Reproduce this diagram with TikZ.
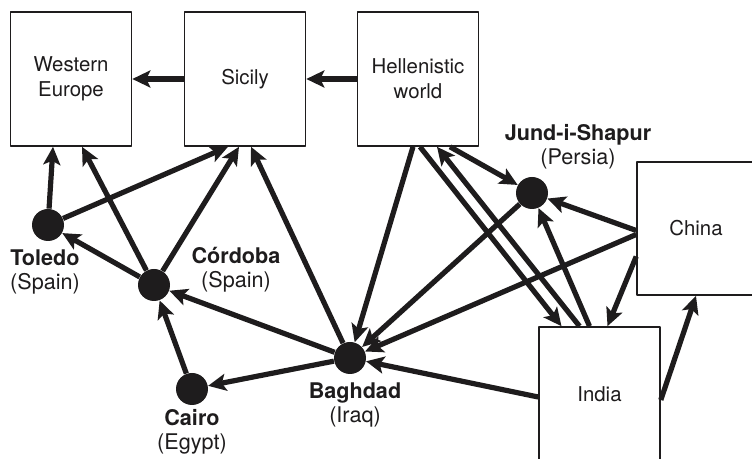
\documentclass[tikz,border=0pt]{standalone}
\usepackage{fontspec}
\setmainfont{TeX Gyre Heros}
\usetikzlibrary{arrows.meta,positioning}
\definecolor{ink}{HTML}{1E1C1D}

\begin{document}
\begin{tikzpicture}[x=.5pt,y=-.5pt,font=\fontsize{10.2}{12.5}\selectfont,text=ink,
    >={Stealth[length=9pt,width=8.5pt,inset=2pt]},line join=round,
    place/.style={draw=ink,line width=.8pt,fill=white,align=center,
      minimum width=60.5pt,minimum height=67pt,inner sep=0pt},
    town/.style={circle,fill=ink,minimum size=16pt,inner sep=0pt},
    townname/.style={align=center,inner sep=0pt,
      font=\fontsize{10.8}{12}\selectfont},
    route/.style={ink,line width=2.6pt,->}]
  \useasboundingbox (0,0) rectangle (752,459);

  % Regions.
  \node[place] (weu) at (71,79) {Western\\Europe};
  \node[place] (sicily) at (245,79) {Sicily};
  \node[place] (hell) at (418,79) {Hellenistic\\world};
  \node[place,minimum width=59pt,minimum height=66.5pt] (china) at (696,228.5) {China};
  \node[place] (india) at (599.5,394) {India};

  % Centres of learning.
  \node[town] (toledo) at (48,225) {};
  \node[town] (cordoba) at (154,285) {};
  \node[town] (cairo) at (192,389) {};
  \node[town] (baghdad) at (350,358) {};
  \node[town] (jund) at (532,193) {};

  \node[townname] (toledo-l) at (45,272) {\textbf{Toledo}\\(Spain)};
  \node[townname] (cordoba-l) at (236,270) {\textbf{Córdoba}\\(Spain)};
  \node[townname] (cairo-l) at (192,432) {\textbf{Cairo}\\(Egypt)};
  \node[townname] (baghdad-l) at (355,405) {\textbf{Baghdad}\\(Iraq)};
  \node[townname] (jund-l) at (578,147) {\textbf{Jund-i-Shapur}\\(Persia)};

  % Along the top row.
  \draw[route] (sicily) -- (weu);
  \draw[route] (hell) -- (sicily);

  % Into Western Europe and Sicily.
  \draw[route] (toledo) -- ([xshift=-9pt]weu.south);
  \draw[route] (cordoba) -- ([xshift=5.5pt]weu.south);
  \draw[route] (toledo) -- ([xshift=-8.5pt]sicily.south);
  \draw[route] (cordoba) -- ([xshift=-3pt]sicily.south);
  \draw[route] (baghdad) -- ([xshift=3pt]sicily.south);

  % Spain and Egypt.
  \draw[route] (cordoba) -- (toledo);
  \draw[route] (cairo) -- (cordoba);
  \draw[route] (baghdad) -- (cordoba);
  \draw[route] (baghdad) -- (cairo);

  % From the Hellenistic world.
  \draw[route] ([xshift=-2.5pt]hell.south) -- (baghdad);
  \draw[route] ([xshift=16pt]hell.south) -- (jund);
  \draw[route] ([xshift=1pt]hell.south) -- ([xshift=-19pt]india.north);
  \draw[route] ([xshift=-10pt]india.north) -- ([xshift=9.5pt]hell.south);

  % The East.
  \draw[route] (jund) -- (baghdad);
  \draw[route] ([xshift=-5pt]india.north) -- (jund);
  \draw[route] ([yshift=-1.5pt]india.west) -- (baghdad);
  \draw[route] ([yshift=-3pt]india.east) -- (china.south);
  \draw[route] ([yshift=-1pt]china.west) -- (jund);
  \draw[route] ([yshift=-3pt]china.west) -- (baghdad);
  \draw[route] ([yshift=-14pt]china.west) -- ([xshift=4pt]india.north);
\end{tikzpicture}
\end{document}
